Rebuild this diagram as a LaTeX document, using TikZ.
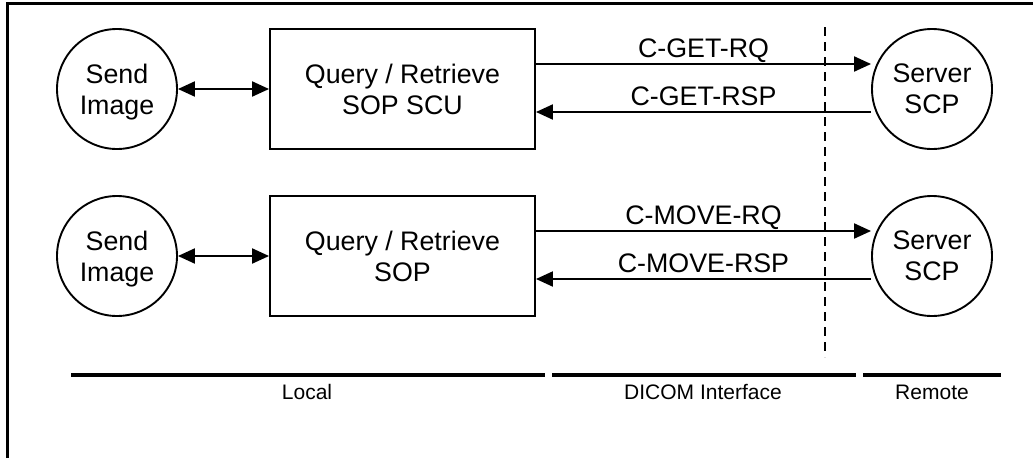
\documentclass[tikz,border=0pt]{standalone}
\usepackage{fontspec}
\setmainfont{Liberation Sans}
\usetikzlibrary{arrows.meta}
\begin{document}
\begin{tikzpicture}[x=1pt,y=-1pt,
  labelfont/.style={font=\fontsize{26.8pt}{31pt}\selectfont},
  circ/.style={circle, draw, line width=1.9pt, minimum size=120pt, inner sep=0pt,
    align=center, labelfont, text depth=0pt},
  sop/.style={rectangle, draw, line width=1.9pt, minimum width=265pt, minimum height=120pt,
    inner sep=0pt, align=center, labelfont, text depth=0pt},
  msg/.style={line width=2.1pt, -{Triangle[length=17pt,width=15pt]}},
  both/.style={line width=2.1pt, {Triangle[length=17pt,width=15pt]}-{Triangle[length=17pt,width=15pt]}},
  msglabel/.style={midway, anchor=base, yshift=6.5pt, labelfont},
  zone/.style={line width=3.2pt},
  zonelabel/.style={anchor=base, font=\fontsize{21pt}{25pt}\selectfont},
  boundary/.style={line width=2pt, dash pattern=on 9pt off 6pt}]

% page extent
\useasboundingbox (0,0) rectangle (1033,458);

% outer frame (top and left edges)
\draw[line width=2.5pt] (7.5,458) -- (7.5,3.3) -- (1033,3.3);

% row 1: C-GET
\node[circ] (send1) at (117,89) {Send\\Image};
\node[sop] (qr1) at (402.5,89) {Query / Retrieve\\SOP SCU};
\node[circ] (srv1) at (932,89) {Server\\SCP};

% row 2: C-MOVE
\node[circ] (send2) at (117,256) {Send\\Image};
\node[sop] (qr2) at (402.5,256) {Query / Retrieve\\SOP};
\node[circ] (srv2) at (932,256) {Server\\SCP};

% local links
\draw[both] (send1) -- (qr1);
\draw[both] (send2) -- (qr2);

% DICOM messages
\draw[msg] ([yshift=25pt]qr1.east) -- ([yshift=25pt]qr1.east -| srv1.west)
  node[msglabel] {C-GET-RQ};
\draw[msg] ([yshift=-23pt]qr1.east -| srv1.west) -- ([yshift=-23pt]qr1.east)
  node[msglabel] {C-GET-RSP};
\draw[msg] ([yshift=25pt]qr2.east) -- ([yshift=25pt]qr2.east -| srv2.west)
  node[msglabel] {C-MOVE-RQ};
\draw[msg] ([yshift=-23pt]qr2.east -| srv2.west) -- ([yshift=-23pt]qr2.east)
  node[msglabel] {C-MOVE-RSP};

% network boundary
\coordinate (bndtop) at (825,27);
\coordinate (bndbot) at (825,357);
\draw[boundary] (bndtop) -- (bndbot);

% zones
\coordinate (locA) at (71,375);   \coordinate (locB) at (545,375);
\coordinate (dicA) at (552,375);  \coordinate (dicB) at (856,375);
\coordinate (remA) at (863,375);  \coordinate (remB) at (1001,375);
\draw[zone] (locA) -- (locB);
\draw[zone] (dicA) -- (dicB);
\draw[zone] (remA) -- (remB);
\node[zonelabel] (local) at (307,399) {Local};
\node[zonelabel] (dicom) at (703,399) {DICOM Interface};
\node[zonelabel] (remote) at (932,399) {Remote};
\end{tikzpicture}
\end{document}
